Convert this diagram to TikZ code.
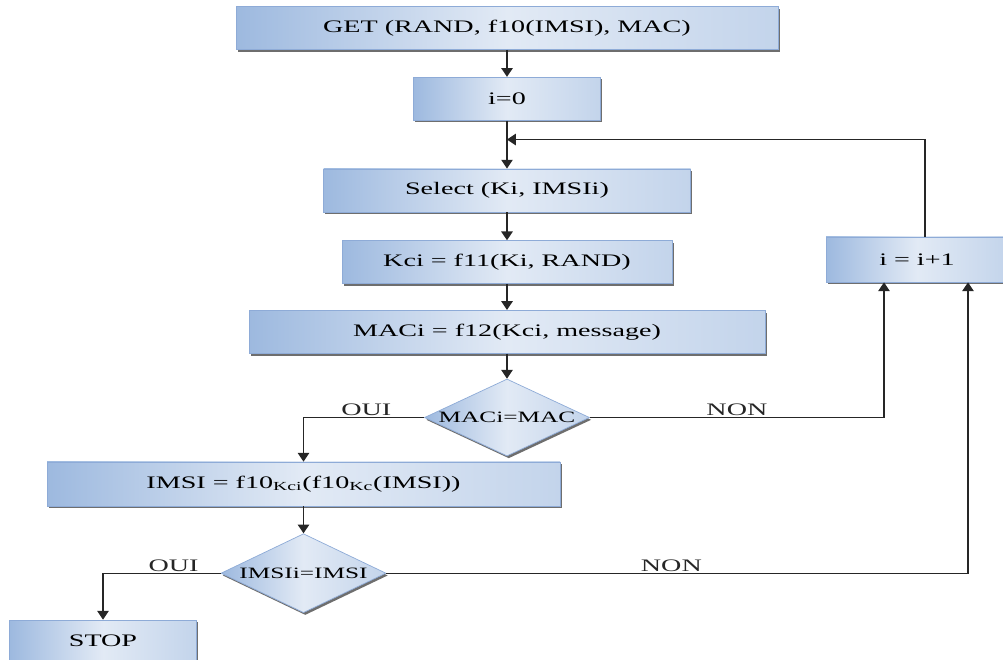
\documentclass[tikz,border=0pt]{standalone}
\usepackage{fontspec}
\setmainfont{Liberation Serif}[FakeStretch=1.6]
\usetikzlibrary{arrows.meta,positioning,shapes.geometric,shadows}
\definecolor{boxdark}{HTML}{9DB9DF}
\definecolor{boxlight}{HTML}{E2EAF5}
\definecolor{boxmid}{HTML}{C3D4EB}
\definecolor{boxedge}{HTML}{8EABD7}
\definecolor{shadowgray}{HTML}{5E5E5E}

\begin{document}
\begin{tikzpicture}[
          node distance=.52cm,
          flowstep/.style={draw=boxedge,line width=.4pt,left color=boxdark,right color=boxmid,
              middle color=boxlight,minimum height=.86cm,align=center,
              drop shadow={shadow xshift=1pt,shadow yshift=-1.3pt,fill=shadowgray,opacity=.9}},
          decision/.style={diamond,draw=boxedge,line width=.4pt,left color=boxdark,right color=boxmid,
              middle color=boxlight,minimum width=3.3cm,inner sep=0pt,
              drop shadow={shadow xshift=1pt,shadow yshift=-1.3pt,fill=shadowgray,opacity=.9}},
          flowarrow/.style={-{Triangle[width=6.5pt,length=5pt]},line width=.8pt,black!85},
          answer/.style={above,inner sep=.5pt}]
        \useasboundingbox (0,0) rectangle (20.06,-13.2);
        \node[flowstep,minimum width=10.84cm] (get) at (10.14,-.56) {GET (RAND, f10(IMSI), MAC)};
        \node[flowstep,minimum width=3.74cm,below=.54cm of get] (init) {i=0};
        \node[flowstep,minimum width=7.34cm,below=.96cm of init] (sel) {Select (Ki, IMSIi)};
        \node[flowstep,minimum width=6.6cm,below=.56cm of sel] (kci) {Kci = f11(Ki, RAND)};
        \node[flowstep,minimum width=10.32cm,below=of kci] (maci) {MACi = f12(Kci, message)};
        \node[decision,minimum height=1.54cm,below=.5cm of maci,
              label={[name=macitxt,font=\small]center:MACi=MAC}] (chkmac) {};
        \node[flowstep,minimum width=10.26cm,minimum height=.88cm] (imsi) at (6.07,-9.68)
              {IMSI = f10\textsubscript{Kci}(f10\textsubscript{Kc}(IMSI))};
        \node[decision,minimum height=1.58cm,below=.54cm of imsi,
              label={[name=imsitxt,font=\small]center:IMSIi=IMSI}] (chkimsi) {};
        \node[flowstep,minimum width=3.74cm,minimum height=.84cm] (stop) at (2.06,-12.82) {STOP};
        \node[flowstep,minimum width=3.64cm,minimum height=.9cm] (inc) at (18.34,-5.19) {i = i+1};
        \coordinate[below=.38cm of init] (join);
        \foreach \x/\y in {get/init,init/sel,sel/kci,kci/maci,maci/chkmac,imsi/chkimsi}
        \draw[flowarrow] (\x)--(\y);
        \draw[flowarrow] ([xshift=.16cm]inc.north) |- (join);
        \draw[flowarrow] (chkmac.west) -| node[answer,pos=.24] (oui1) {OUI} (imsi.north);
        \draw[flowarrow] (chkmac.east) -| node[answer,pos=.25] (non1) {NON} ([xshift=-.66cm]inc.south);
        \draw[flowarrow] (chkimsi.west) -| node[answer,pos=.2] (oui2) {OUI} (stop.north);
        \draw[flowarrow] (chkimsi.east) -| node[answer,pos=.245] (non2) {NON} ([xshift=1.02cm]inc.south);
      \end{tikzpicture}
\end{document}
